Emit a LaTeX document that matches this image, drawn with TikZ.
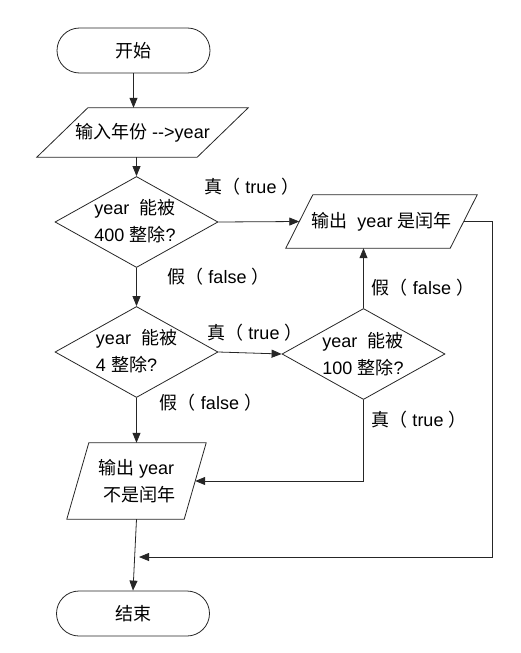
\documentclass[tikz,border=0pt]{standalone}
\usepackage{fontspec}
\setmainfont{Liberation Sans}
\newfontfamily\cjk{Noto Sans CJK SC}
\usetikzlibrary{shapes.geometric,arrows.meta,calc}
\newcommand\parashape[2]{%
  \draw[line] ($(#1.north west)+(#2,0)$) -- ($(#1.north east)+(#2,0)$)
    -- ($(#1.south east)-(#2,0)$) -- ($(#1.south west)-(#2,0)$) -- cycle;}
\begin{document}
\begin{tikzpicture}[x=1pt,y=-1pt,
  line/.style={draw=black!85, line width=0.8pt},
  arr/.style={line, -{Triangle[length=10pt,width=8pt]}},
  term/.style={line, rectangle, rounded corners=22.5pt, minimum width=153pt, minimum height=45pt, inner sep=0pt, font=\fontsize{18}{27}\selectfont},
  dia/.style={line, diamond, minimum width=163pt, minimum height=91pt, inner sep=0pt},
  pbox/.style={inner sep=0pt, font=\fontsize{18}{27}\selectfont},
  txt/.style={inner sep=0pt, font=\fontsize{18}{27}\selectfont, align=left},
  lbl/.style={inner sep=0pt, font=\fontsize{18}{27}\selectfont}]
\useasboundingbox (0,0) rectangle (520,653);

% terminals
\node[term] (start) at (133.5,50.5) {{\cjk 开始}};
\node[term] (end) at (133,613.5) {{\cjk 结束}};

% input
\node[pbox, minimum width=160pt, minimum height=49pt] (in) at (142.5,132.5) {{\cjk 输入年份} -{}-{}>year};
\parashape{in}{25.5}

% diamonds
\node[dia] (d1) at (136.5,222) {};
\node[txt] (t1) at (135,221) {year~~{\cjk 能被}\\400 {\cjk 整除}?};
\node[dia] (d2) at (136.5,352) {};
\node[txt] (t2) at (136.5,351.5) {year~~{\cjk 能被}\\4 {\cjk 整除}?};
\node[dia] (d3) at (363.5,354) {};
\node[txt] (t3) at (363,354) {year~~{\cjk 能被}\\100 {\cjk 整除}?};

% outputs
\node[pbox, minimum width=164pt, minimum height=53pt] (o1) at (381.5,221.5) {{\cjk 输出}~~year {\cjk 是闰年}};
\parashape{o1}{13.5}
\node[pbox, minimum width=117pt, minimum height=76pt, align=left] (o2) at (136.5,481) {{\cjk 输出} year\\\hspace{5pt}{\cjk 不是闰年}};
\parashape{o2}{11}

% helper coordinates
\coordinate (turn) at (492,557);
\coordinate (merge) at (139,557);

% connectors
\draw[arr] (start.south) -- (start.south |- in.north);
\draw[arr] (d1.north |- in.south) -- (d1.north);
\draw[arr] (d1.east) -- (o1.west);
\draw[arr] (d1.south) -- (d2.north);
\draw[arr] (d2.east) -- (d3.west);
\draw[arr] (d3.north) -- (d3.north |- o1.south);
\draw[arr] (d2.south) -- (o2.north);
\draw[arr] (d3.south) -- (d3.south |- o2.east) -- (o2.east);
\draw[arr] (o2.south) -- (end.north);
\draw[arr] (o1.east) -| (turn) -- (merge);

% labels
\node[lbl] (l1) at (252,187) {{\cjk 真（}~true~{\cjk ）}};
\node[lbl] (l2) at (218.5,277) {{\cjk 假（}~false~{\cjk ）}};
\node[lbl] (l3) at (255,333) {{\cjk 真（}~true~{\cjk ）}};
\node[lbl] (l4) at (423,288) {{\cjk 假（}~false~{\cjk ）}};
\node[lbl] (l5) at (211,403) {{\cjk 假（}~false~{\cjk ）}};
\node[lbl] (l6) at (419,420) {{\cjk 真（}~true~{\cjk ）}};
\end{tikzpicture}
\end{document}
